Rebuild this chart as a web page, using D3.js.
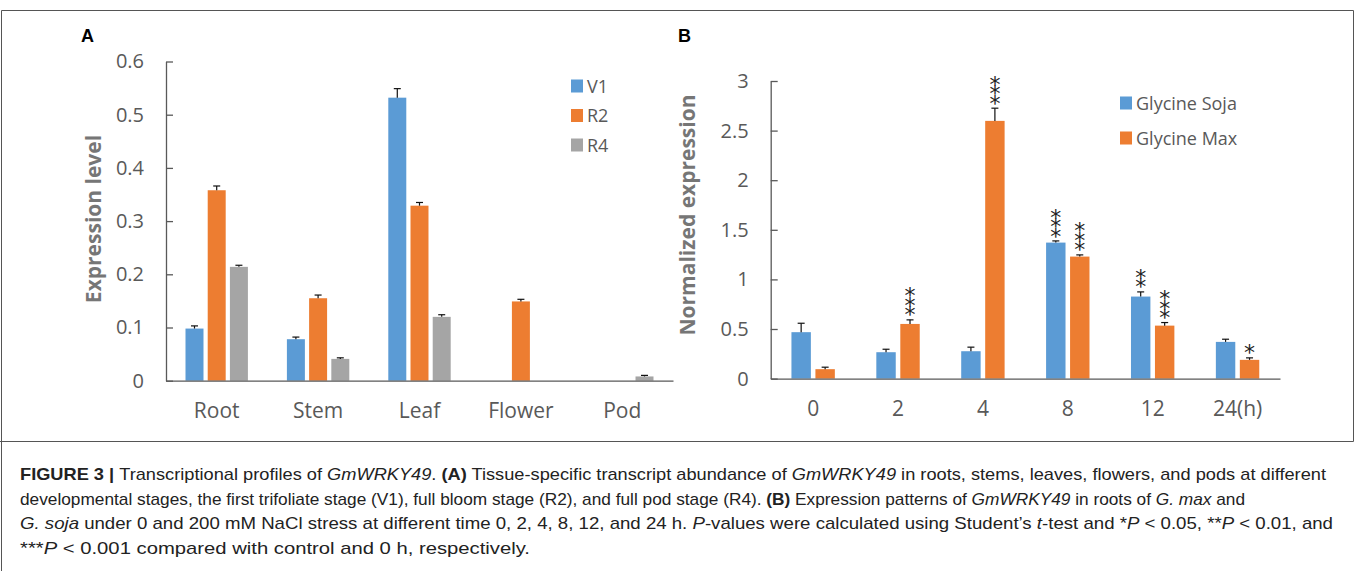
<!DOCTYPE html>
<html>
<head>
<meta charset="utf-8">
<script src="https://cdn.jsdelivr.net/npm/d3@7"></script>
<style>
  body { margin: 0; background: #fff; }
  svg { display: block; }
  .tick-label { font-family: "Open Sans", sans-serif; fill: #595959; }
  .caption { font-family: "Liberation Sans", Arial, sans-serif; font-size: 17px; fill: #222; }
</style>
</head>
<body>
<svg id="fig" width="1355" height="571"></svg>
<script>
// panel A: tissue expression
const tissues = ['Root', 'Stem', 'Leaf', 'Flower', 'Pod'];
const stages = ['V1', 'R2', 'R4'];
const v1Values = [0.098, 0.078, 0.532, 0, 0];
const r2Values = [0.358, 0.155, 0.329, 0.149, 0];
const r4Values = [0.214, 0.041, 0.120, 0, 0.008];
const v1Errors = [0.005, 0.004, 0.017, 0, 0];
const r2Errors = [0.008, 0.006, 0.006, 0.004, 0];
const r4Errors = [0.003, 0.002, 0.004, 0, 0.002];
const ticksA = [0, 0.1, 0.2, 0.3, 0.4, 0.5, 0.6];

// panel B: salt stress time course
const hours = ['0', '2', '4', '8', '12', '24(h)'];
const species = ['Glycine Soja', 'Glycine Max'];
const sojaValues = [0.468, 0.266, 0.276, 1.371, 0.827, 0.370];
const maxValues = [0.095, 0.551, 2.598, 1.230, 0.534, 0.189];
const sojaErrors = [0.090, 0.030, 0.041, 0.017, 0.047, 0.027];
const maxErrors = [0.020, 0.041, 0.128, 0.017, 0.031, 0.020];
const sojaStars = [0, 0, 0, 3, 2, 0];
const maxStars = [0, 3, 3, 3, 3, 1];
const ticksB = [0, 0.5, 1, 1.5, 2, 2.5, 3];

const colors = ['#5B9BD5', '#ED7D31', '#A5A5A5'];
const axisColor = '#595959';

const svg = d3.select('#fig');
svg.append('rect').attr('width', 1355).attr('height', 571).attr('fill', '#fff');

// figure frame
svg.append('path')
  .attr('d', 'M1.5,571V10.5H1353.5V441.5H0')
  .attr('fill', 'none').attr('stroke', '#555').attr('stroke-width', 1);

const fmt = d => String(+d.toFixed(1));

function drawPanel(opts) {
  const g = svg.append('g');
  const x = d3.scaleBand().domain(opts.categories).range(opts.xRange);
  const inner = d3.scaleBand().domain(opts.series).range(opts.innerRange).paddingInner(0.19);
  const y = d3.scaleLinear().domain(opts.yDomain).range(opts.yRange);

  const rows = [];
  opts.series.forEach((s, si) => {
    opts.categories.forEach((c, ci) => {
      rows.push({ s, si, c, value: opts.values[si][ci], err: opts.errors[si][ci],
        stars: opts.stars ? opts.stars[si][ci] : 0 });
    });
  });

  // bars
  g.selectAll('rect.bar')
    .data(rows.filter(d => d.value > 0))
    .enter().append('rect')
    .attr('class', 'bar')
    .attr('x', d => x(d.c) + x.bandwidth() / 2 + inner(d.s))
    .attr('y', d => y(d.value))
    .attr('width', inner.bandwidth())
    .attr('height', d => y(0) - y(d.value))
    .attr('fill', d => colors[d.si]);

  // error bars (plus direction only)
  const cx = d => x(d.c) + x.bandwidth() / 2 + inner(d.s) + inner.bandwidth() / 2;
  const eb = g.selectAll('g.err')
    .data(rows.filter(d => d.value > 0 && d.err > 0))
    .enter().append('g')
    .attr('class', 'err')
    .attr('stroke', '#111')
    .attr('stroke-width', 1.2);
  eb.append('line')
    .attr('x1', cx).attr('x2', cx)
    .attr('y1', d => y(d.value)).attr('y2', d => y(d.value + d.err));
  eb.append('line')
    .attr('x1', d => cx(d) - 3.5).attr('x2', d => cx(d) + 3.5)
    .attr('y1', d => y(d.value + d.err)).attr('y2', d => y(d.value + d.err));

  // significance stars: one text per stack running upwards,
  // each glyph turned back upright with the per-glyph rotate attribute
  const fs = 22;
  g.selectAll('text.stars')
    .data(rows.filter(d => d.stars > 0))
    .enter().append('text')
    .attr('class', 'stars')
    .attr('transform', d => `translate(${cx(d)},${y(d.value + d.err) + 2.6}) rotate(-90)`)
    .attr('x', 0)
    .attr('y', -0.25 * fs)
    .attr('rotate', 90)
    .attr('font-family', 'DejaVu Sans, sans-serif')
    .attr('font-size', fs)
    .attr('letter-spacing', -1.5)
    .attr('fill', '#222')
    .text(d => '*'.repeat(d.stars));

  // y axis, ticks pointing inward
  const yAxis = g.append('g')
    .attr('transform', `translate(${opts.xRange[0]},0)`)
    .call(d3.axisLeft(y).tickValues(opts.ticks).tickFormat(fmt)
      .tickSizeInner(-7).tickSizeOuter(0).tickPadding(22));
  yAxis.select('.domain').attr('stroke', axisColor).attr('stroke-width', 1.3);
  yAxis.selectAll('.tick line').attr('stroke', axisColor).attr('stroke-width', 1.3);
  yAxis.selectAll('.tick text').attr('class', 'tick-label').attr('font-size', 20)
    .attr('fill', '#595959');

  // x axis
  const xAxis = g.append('g')
    .attr('transform', `translate(0,${y(0)})`)
    .call(d3.axisBottom(x).tickSize(0).tickPadding(22));
  xAxis.select('.domain').attr('stroke', axisColor).attr('stroke-width', 1.3);
  xAxis.selectAll('.tick text').attr('class', 'tick-label').attr('font-size', 21)
    .attr('fill', '#595959');

  // axis title
  g.append('text')
    .attr('transform', `translate(${opts.titleX},${opts.titleY}) rotate(-90)`)
    .attr('text-anchor', 'middle')
    .attr('font-family', 'Open Sans, sans-serif')
    .attr('font-weight', 'bold')
    .attr('font-size', 21)
    .attr('fill', '#767676')
    .text(opts.title);

  // legend
  const lg = g.append('g').attr('transform', `translate(${opts.legendX},${opts.legendY})`);
  opts.series.forEach((s, i) => {
    const row = lg.append('g').attr('transform', `translate(0,${i * opts.legendStep})`);
    row.append('rect').attr('x', 0).attr('y', -6.5).attr('width', 12).attr('height', 13)
      .attr('fill', colors[i]);
    row.append('text').attr('x', 16).attr('y', 6.5)
      .attr('font-family', 'Open Sans, sans-serif').attr('font-size', 18)
      .attr('fill', '#595959').text(s);
  });

  // panel letter
  g.append('text')
    .attr('x', opts.letterX).attr('y', 42)
    .attr('font-family', 'Liberation Sans, Arial, sans-serif')
    .attr('font-weight', 'bold').attr('font-size', 18).attr('fill', '#000')
    .text(opts.letter);
}

drawPanel({
  letter: 'A', letterX: 81,
  categories: tissues, series: stages,
  values: [v1Values, r2Values, r4Values],
  errors: [v1Errors, r2Errors, r4Errors],
  ticks: ticksA,
  xRange: [166, 673], innerRange: [-31.2, 31.2],
  yDomain: [0, 0.6], yRange: [380.7, 61.5],
  title: 'Expression level', titleX: 101, titleY: 219,
  legendX: 571, legendY: 86, legendStep: 29.5
});

drawPanel({
  letter: 'B', letterX: 678,
  categories: hours, series: species,
  values: [sojaValues, maxValues],
  errors: [sojaErrors, maxErrors],
  stars: [sojaStars, maxStars],
  ticks: ticksB,
  xRange: [770.7, 1280], innerRange: [-21.7, 21.7],
  yDomain: [0, 3], yRange: [378.6, 81],
  title: 'Normalized expression', titleX: 695, titleY: 215,
  legendX: 1120, legendY: 103, legendStep: 35
});

// caption
const captionLines = [
  [['b', 'FIGURE 3 | '], ['', 'Transcriptional profiles of '], ['i', 'GmWRKY49'], ['', '. '], ['b', '(A)'],
   ['', ' Tissue-specific transcript abundance of '], ['i', 'GmWRKY49'],
   ['', ' in roots, stems, leaves, flowers, and pods at different']],
  [['', 'developmental stages, the first trifoliate stage (V1), full bloom stage (R2), and full pod stage (R4). '],
   ['b', '(B)'], ['', ' Expression patterns of '], ['i', 'GmWRKY49'], ['', ' in roots of '], ['i', 'G. max'], ['', ' and']],
  [['i', 'G. soja'], ['', ' under 0 and 200 mM NaCl stress at different time 0, 2, 4, 8, 12, and 24 h. '], ['i', 'P'],
   ['', '-values were calculated using Student\u2019s '], ['i', 't'], ['', '-test and *'], ['i', 'P'],
   ['', ' < 0.05, **'], ['i', 'P'], ['', ' < 0.01, and']],
  [['', '***'], ['i', 'P'], ['', ' < 0.001 compared with control and 0 h, respectively.']]
];
const captionY = [480, 505, 529, 554];
const captionWidth = [1306, 1225, 1313, 510];
captionLines.forEach((parts, li) => {
  const t = svg.append('text').attr('class', 'caption').attr('x', 20).attr('y', captionY[li])
    .attr('xml:space', 'preserve')
    .attr('textLength', captionWidth[li])
    .attr('lengthAdjust', 'spacingAndGlyphs');
  parts.forEach(([style, str]) => {
    const ts = t.append('tspan').text(str);
    if (style === 'b') ts.attr('font-weight', 'bold');
    if (style === 'i') ts.attr('font-style', 'italic');
  });
});
</script>
</body>
</html>
